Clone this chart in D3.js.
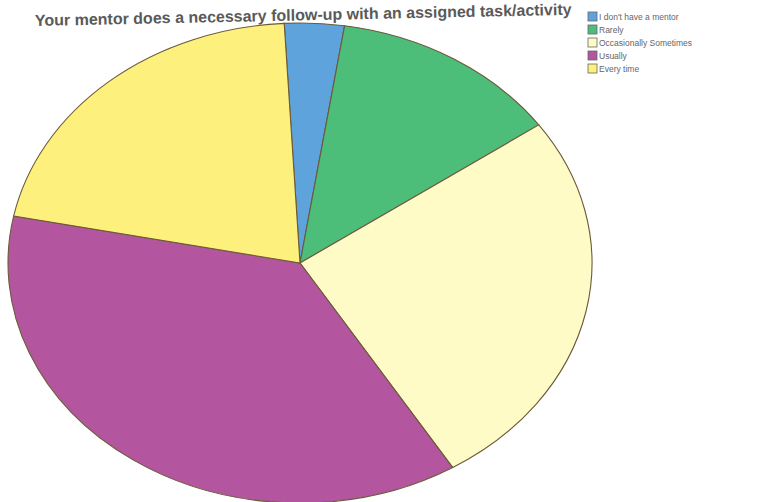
<!DOCTYPE html>
<html><head><meta charset="utf-8">
<script src="https://cdn.jsdelivr.net/npm/d3@7"></script>
<style>body{margin:0;background:#fff;}svg{display:block;}</style>
</head><body>
<svg id="c" width="757" height="502"></svg>
<script>
const titleText = "Your mentor does a necessary follow-up with an assigned task/activity";
const categories = ["I don't have a mentor", "Rarely", "Occasionally Sometimes", "Usually", "Every time"];
const values = [3.3, 12.8, 26.0, 36.9, 21.0];
const colors = ["#5fa3dc", "#4dbd7a", "#fffbc6", "#b3569f", "#fdf07c"];

const svg = d3.select("#c");
const cx = 300, cy = 263, rx = 292, ry = 240, r = 100;

const pie = d3.pie().sort(null).value(d => d)
  .startAngle(-3.1 * Math.PI / 180).endAngle(2 * Math.PI - 3.1 * Math.PI / 180);
const arc = d3.arc().innerRadius(0).outerRadius(r);
const color = d3.scaleOrdinal().domain(categories).range(colors);

const g = svg.append("g").attr("transform", `translate(${cx},${cy}) scale(${rx / r},${ry / r})`);
g.selectAll("path").data(pie(values)).join("path")
  .attr("d", arc)
  .attr("fill", (d, i) => color(categories[i]))
  .attr("stroke", "#6b5a3a")
  .attr("stroke-width", 1.1)
  .attr("vector-effect", "non-scaling-stroke");

svg.append("text")
  .attr("x", 35).attr("y", 26)
  .attr("transform", "rotate(-1.2 35 26)")
  .attr("font-family", "Liberation Sans, Arial, sans-serif")
  .attr("font-size", 16).attr("font-weight", "bold")
  .attr("fill", "#5a5a5a")
  .text(titleText);

const lg = svg.append("g").attr("transform", "translate(588,12)");
const item = lg.selectAll("g").data(categories).join("g")
  .attr("transform", (d, i) => `translate(0,${i * 13})`);
item.append("rect").attr("width", 9).attr("height", 9)
  .attr("fill", d => color(d)).attr("stroke", "#666").attr("stroke-width", 0.8);
item.append("text").attr("x", 11).attr("y", 8)
  .attr("font-family", "Liberation Sans, Arial, sans-serif")
  .attr("font-size", 8.5).attr("fill", "#666")
  .text(d => d);
</script>
</body></html>
